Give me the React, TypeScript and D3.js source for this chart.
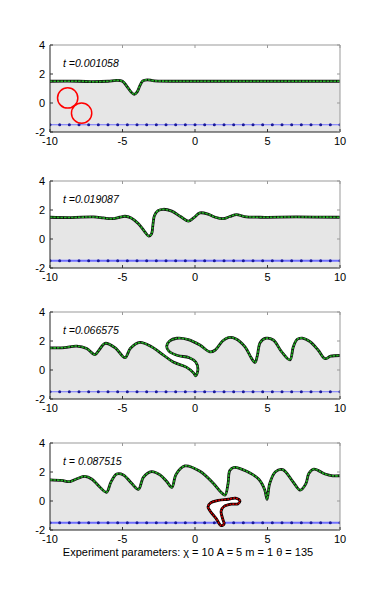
import React from "react";
import * as d3 from "d3";

// interface snapshots (x, y)
const times = ["t =0.001058", "t =0.019087", "t =0.066575", "t = 0.087515"];

const curve1: [number, number][] = [
  [-10, 1.5], [-8, 1.5], [-7, 1.47], [-6, 1.5], [-5.4, 1.56], [-5.0, 1.5],
  [-4.7, 1.15], [-4.4, 0.75], [-4.2, 0.6], [-4.0, 0.75], [-3.8, 1.2], [-3.6, 1.52],
  [-3.3, 1.6], [-2.8, 1.53], [0, 1.5], [5, 1.5], [10, 1.5],
];

const curve2: [number, number][] = [
  [-10, 1.5], [-8.5, 1.48], [-7, 1.52], [-6.3, 1.45], [-5.75, 1.4], [-5.2, 1.5],
  [-4.83, 1.57], [-4.4, 1.45], [-3.9, 1.05], [-3.5, 0.55], [-3.2, 0.2], [-3.0, 0.35],
  [-2.9, 1.0], [-2.8, 1.6], [-2.55, 1.95], [-2.18, 2.05], [-1.6, 1.92], [-1.0, 1.55],
  [-0.46, 1.23], [-0.1, 1.45], [0.34, 1.8], [0.9, 1.72], [1.4, 1.5], [1.95, 1.4],
  [2.4, 1.55], [2.87, 1.68], [3.4, 1.55], [4.5, 1.5], [7, 1.52], [10, 1.5],
];

const curve3: [number, number][] = [
  [-10, 1.52], [-9, 1.55], [-8.16, 1.65], [-7.47, 1.48], [-6.9, 1.06], [-6.6, 1.4],
  [-6.2, 1.84], [-5.5, 1.53], [-4.83, 0.85], [-4.45, 1.5], [-3.8, 1.9], [-3.0, 1.6],
  [-2.2, 1.05], [-1.5, 0.55], [-0.6, 0.2], [-0.1, -0.2], [0.05, -0.4], [0.2, 0.05],
  [0.05, 0.55], [-0.4, 0.85], [-1.2, 1.0], [-1.8, 1.3], [-1.95, 1.65], [-1.75, 2.0],
  [-1.26, 2.19], [-0.46, 2.1], [0.34, 1.72], [1.03, 1.25], [1.4, 1.38], [1.9, 2.0],
  [2.3, 2.24], [2.8, 2.16], [3.45, 1.6], [3.9, 0.8], [4.14, 0.52], [4.3, 1.0],
  [4.5, 1.9], [4.9, 2.19], [5.4, 2.07], [5.98, 1.25], [6.55, 0.7], [6.78, 1.6],
  [7.05, 2.12], [7.4, 2.2], [7.93, 1.95], [8.5, 1.36], [8.97, 0.78], [9.35, 0.95],
  [10, 1.0],
];

const curve4: [number, number][] = [
  [-10, 1.46], [-9.2, 1.42], [-8.62, 1.34], [-8.1, 1.55], [-7.6, 1.7], [-7.1, 1.5],
  [-6.6, 1.0], [-6.1, 0.6], [-5.8, 1.3], [-5.4, 1.86], [-4.94, 1.8], [-4.37, 1.22],
  [-3.9, 0.8], [-3.55, 1.65], [-3.0, 2.03], [-2.41, 1.8], [-1.95, 1.34], [-1.6, 0.94],
  [-1.3, 1.85], [-0.7, 2.42], [0.34, 2.05], [1.26, 1.22], [1.8, 0.6], [2.07, 0.4],
  [2.28, 1.2], [2.4, 2.1], [2.7, 2.32], [3.56, 2.05], [4.4, 1.5], [4.8, 0.8],
  [4.97, 0.12], [5.15, 1.2], [5.55, 2.02], [6.05, 2.16], [6.75, 1.34], [7.25, 0.75],
  [7.65, 1.2], [7.85, 1.9], [8.2, 2.2], [8.97, 1.86], [9.5, 1.74], [10, 1.74],
];

const curves = [curve1, curve2, curve3, curve4];

// red drop in panel 1: two touching circles (cx, cy, r in x units)
const dropCircles: [number, number, number][] = [
  [-8.78, 0.35, 0.7],
  [-7.82, -0.7, 0.7],
];

// red drop in panel 4
const drop4: [number, number][] = [
  [1.8, -1.7], [1.45, -1.2], [1.05, -0.7], [0.9, -0.4], [1.1, -0.12], [1.6, 0.04],
  [2.3, 0.12], [2.8, 0.2], [3.1, 0.0], [2.95, -0.2], [2.5, -0.22], [2.0, -0.38],
  [1.8, -0.7], [1.9, -1.2], [2.0, -1.6],
];

const bottomWallY = -1.5;
const wallDots = d3.range(31).map((i) => -10 + (i * 20) / 30);

const xTicks = [-10, -5, 0, 5, 10];
const yTicks = [-2, 0, 2, 4];

const tops = [45, 181, 312, 443];
const H = 87;
const L = 50, R = 340;
const font = "Arial, 'Liberation Sans', Helvetica, sans-serif";

const Panel = ({ idx }) => {
  const top = tops[idx];
  const x = d3.scaleLinear().domain([-10, 10]).range([L, R]);
  const y = d3.scaleLinear().domain([-2, 4]).range([top + H, top]);
  const line = d3.line<[number, number]>().x((d) => x(d[0])).y((d) => y(d[1])).curve(d3.curveCatmullRom.alpha(0.5));
  const closed = d3.line<[number, number]>().x((d) => x(d[0])).y((d) => y(d[1])).curve(d3.curveCatmullRomClosed);
  const pts = curves[idx];
  const fillPath = line(pts) + `L${R},${top + H}L${L},${top + H}Z`;
  const clipId = `clip${idx}`;
  return (
    <g>
      <defs>
        <clipPath id={clipId}>
          <rect x={L} y={top} width={R - L} height={H} />
        </clipPath>
      </defs>
      <g clipPath={`url(#${clipId})`}>
        <path d={fillPath} fill="#e6e6e6" stroke="none" />
        <line x1={L} x2={R} y1={y(bottomWallY)} y2={y(bottomWallY)} stroke="#7070ff" strokeWidth={idx % 2 ? 2 : 1.2} />
        {wallDots.map((d, i) => (
          <circle key={i} cx={x(d)} cy={y(bottomWallY)} r={1.5} fill="#1a1a99" />
        ))}
        {idx === 3 && (
          <>
            <path d={closed(drop4)} fill="#ffffff" stroke="#000" strokeWidth={2.8} />
            <path d={closed(drop4)} fill="none" stroke="#cc0000" strokeWidth={1.6} strokeDasharray="2,1" />
          </>
        )}
        <path d={line(pts)} fill="none" stroke="#111" strokeWidth={2.8} />
        <path d={line(pts)} fill="none" stroke="#22b022" strokeWidth={1.6} strokeDasharray="2.5,1" />
        {idx === 0 &&
          dropCircles.map((c, i) => (
            <ellipse key={i} cx={x(c[0])} cy={y(c[1])} rx={x(c[0] + c[2]) - x(c[0])} ry={x(c[0] + c[2]) - x(c[0])} fill="none" stroke="#ff0000" strokeWidth={1.5} />
          ))}
      </g>
      {/* frame */}
      <line x1={L} x2={R} y1={top} y2={top} stroke="#999" strokeWidth={1} />
      <line x1={R} x2={R} y1={top} y2={top + H} stroke="#999" strokeWidth={1} />
      <line x1={L} x2={L} y1={top} y2={top + H} stroke="#222" strokeWidth={1} />
      <line x1={L} x2={R} y1={top + H} y2={top + H} stroke="#222" strokeWidth={1} />
      {xTicks.map((t) => (
        <g key={t}>
          <line x1={x(t)} x2={x(t)} y1={top + H} y2={top + H - 3} stroke="#333" />
          <line x1={x(t)} x2={x(t)} y1={top} y2={top + 3} stroke="#999" />
          <text x={x(t)} y={top + H + 13} textAnchor="middle" fontSize={11} fontFamily={font}>{t}</text>
        </g>
      ))}
      {yTicks.map((t) => (
        <g key={t}>
          <line x1={L} x2={L + 3} y1={y(t)} y2={y(t)} stroke="#333" />
          <line x1={R} x2={R - 3} y1={y(t)} y2={y(t)} stroke="#999" />
          <text x={L - 5} y={y(t) + 4} textAnchor="end" fontSize={11} fontFamily={font}>{t}</text>
        </g>
      ))}
      <text x={63} y={top + 22} fontSize={10.5} fontStyle="italic" fontFamily={font}>{times[idx]}</text>
    </g>
  );
};

export default function App() {
  return (
    <svg width={375} height={600} style={{ position: "absolute", left: 0, top: 0, background: "#fff" }}>
      <rect width={375} height={600} fill="#fff" />
      {[0, 1, 2, 3].map((i) => (
        <Panel key={i} idx={i} />
      ))}
      <text x={188} y={556} textAnchor="middle" fontSize={11} fontFamily={font}>
        Experiment parameters: χ = 10 A = 5 m = 1 θ = 135
      </text>
    </svg>
  );
}
